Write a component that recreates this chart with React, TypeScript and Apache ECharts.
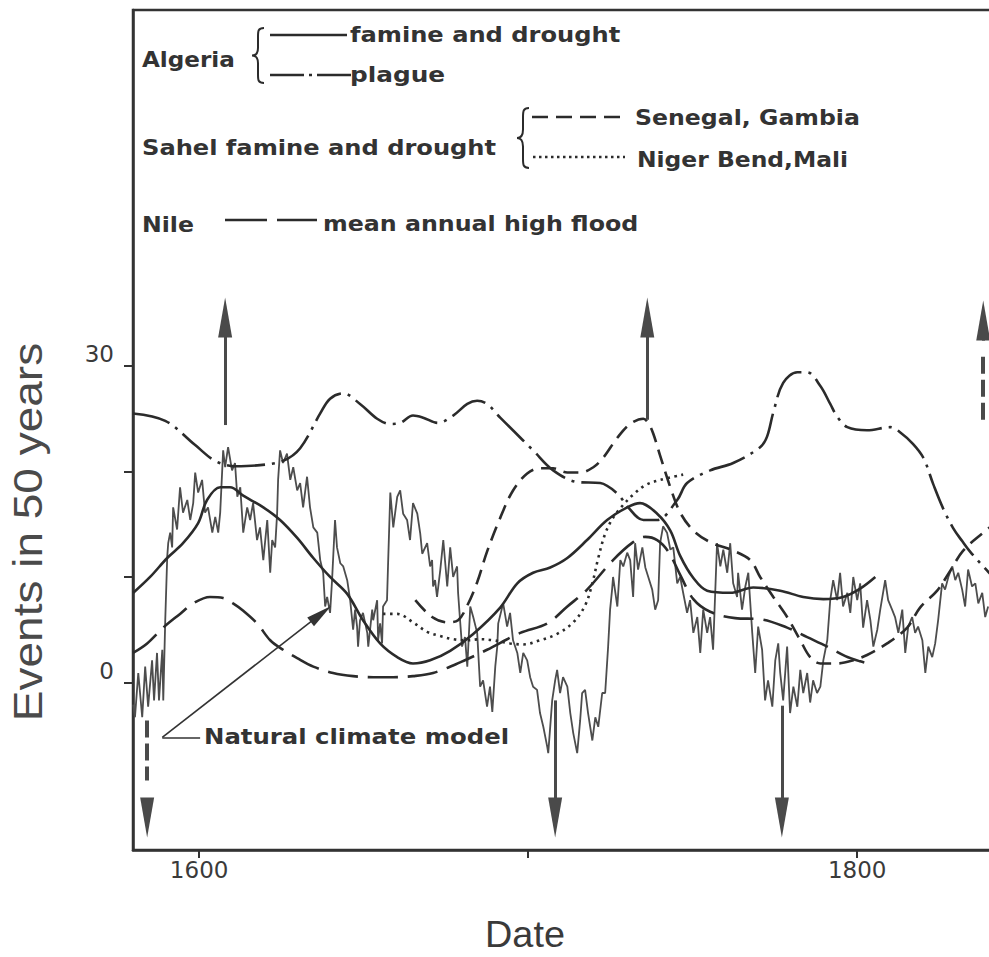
import React, { useEffect, useRef } from "react";
import * as echarts from "echarts";

// ---------------- axis ticks ----------------
const xTickValues = [1600, 1700, 1800];
const xLabelValues = [1600, 1800];
const yTickValues = [0, 10, 20, 30];
const yLabelValues = [0, 30];

// ---------------- series: [year, events in 50 years] ----------------
const algeriaFamine = [
  [1580, 8.5], [1585.1, 10.0], [1590.3, 11.8], [1595.1, 13.2], [1599.7, 15.1], [1602.4, 17.3], [1606.4, 18.5],
  [1609.4, 18.5], [1613.4, 17.7], [1619.5, 16.6], [1624.6, 15.4], [1629.8, 13.7], [1634.7, 11.8], [1639.8, 10.0],
  [1645.0, 8.4], [1649.8, 5.9], [1655.0, 3.7], [1660.2, 2.4], [1665.0, 1.8], [1670.2, 2.1], [1676.3, 3.0],
  [1683.3, 4.6], [1691.5, 7.1], [1696.7, 9.4], [1701.5, 10.4], [1706.7, 10.9], [1711.9, 11.8], [1717.9, 13.5],
  [1724.0, 15.4], [1730.1, 16.6], [1734.0, 17.0], [1739.2, 16.0], [1743.2, 14.4], [1746.2, 12.0], [1750.2, 9.9],
  [1754.4, 8.7], [1761.4, 8.5], [1768.4, 9.0], [1776.6, 8.7], [1783.6, 8.1], [1789.7, 7.9], [1795.7, 8.1],
  [1800.9, 8.9], [1805.5, 10.0],
];

const algeriaPlague = [
  [1579.9, 25.5], [1589.7, 24.8], [1598.8, 22.5], [1604.9, 21.0], [1610.9, 20.5], [1618.5, 20.6], [1625.5, 21.0],
  [1630.7, 22.2], [1636.8, 25.5], [1639.8, 26.9], [1643.8, 27.4], [1648.9, 26.4], [1654.1, 25.0], [1658.1, 24.5],
  [1661.1, 24.6], [1665.0, 25.3], [1668.1, 25.1], [1672.6, 24.6], [1677.2, 25.3], [1681.5, 26.4], [1684.5, 26.7],
  [1687.5, 26.4], [1691.5, 25.1], [1701.5, 22.0], [1707.6, 20.1], [1714.9, 19.0], [1721.9, 18.9], [1727.1, 17.9],
  [1730.4, 16.6], [1735.0, 15.4], [1739.2, 15.4], [1745.3, 17.3], [1748.3, 18.9], [1755.3, 20.1], [1762.3, 20.8],
  [1770.5, 22.3], [1772.6, 23.3], [1774.5, 25.6], [1777.5, 28.4], [1781.8, 29.4], [1784.8, 29.4], [1788.8, 28.1],
  [1791.8, 26.4], [1793.9, 25.2], [1797.0, 24.2], [1803.0, 23.9], [1810.0, 24.2], [1813.1, 23.7], [1817.0, 22.6],
  [1820.1, 21.3], [1823.1, 18.8], [1826.1, 16.5], [1829.2, 14.6], [1831.9, 13.4], [1834.3, 12.4], [1839.5, 10.6],
  [1843.5, 9.3],
];

const senegalGambia = [
  [1665.7, 7.8], [1670.8, 6.2], [1675.4, 5.7], [1678.7, 5.9], [1681.5, 7.3], [1684.5, 9.5], [1687.5, 12.4],
  [1691.5, 15.6], [1695.4, 18.2], [1699.7, 19.8], [1703.6, 20.3], [1707.6, 20.3], [1711.9, 19.9], [1715.8, 19.9],
  [1719.8, 20.4], [1722.8, 21.3], [1727.1, 23.2], [1731.0, 24.5], [1735.0, 25.0], [1736.5, 24.6], [1738.0, 23.6],
  [1740.1, 21.5], [1743.2, 18.5], [1746.2, 16.1], [1750.2, 14.4], [1755.3, 13.3], [1762.3, 12.5], [1767.5, 11.6],
  [1770.5, 10.0], [1774.5, 8.1], [1778.7, 6.2], [1782.7, 4.0], [1785.7, 2.4], [1788.8, 1.8], [1793.9, 1.8],
  [1798.8, 2.1], [1803.0, 2.6], [1809.1, 3.7], [1815.2, 5.2], [1819.1, 7.1], [1824.3, 8.7], [1828.3, 10.6],
  [1832.2, 12.5], [1838.3, 14.2], [1843.5, 15.5],
];

const nigerBendMali = [
  [1655.9, 6.5], [1660.2, 6.5], [1665.0, 5.7], [1669.3, 4.8], [1673.3, 4.4], [1677.2, 4.1], [1681.5, 4.0],
  [1685.4, 4.1], [1689.4, 4.0], [1694.5, 3.7], [1698.5, 3.6], [1703.6, 4.0], [1708.8, 4.6], [1713.7, 5.7],
  [1717.3, 7.3], [1719.5, 9.4], [1721.3, 11.8], [1723.4, 14.1], [1725.8, 15.6], [1728.8, 16.8], [1731.9, 17.8],
  [1735.6, 18.7], [1740.1, 19.2], [1747.1, 19.7],
];

const nileHighFlood = [
  [1579.9, 2.8], [1584.2, 3.7], [1589.1, 5.2], [1594.2, 6.5], [1598.2, 7.5], [1603.3, 8.1], [1607.3, 8.0],
  [1610.3, 7.5], [1613.4, 6.8], [1617.6, 5.6], [1621.6, 4.0], [1625.5, 3.1], [1629.8, 2.3], [1634.7, 1.5],
  [1640.7, 0.9], [1646.8, 0.6], [1652.9, 0.5], [1659.0, 0.5], [1665.0, 0.6], [1671.1, 0.9], [1679.3, 1.9],
  [1687.5, 3.1], [1697.6, 4.7], [1705.8, 5.6], [1711.9, 7.2], [1717.9, 8.8], [1725.8, 11.6], [1731.9, 13.3],
  [1735.6, 13.8], [1739.2, 13.5], [1742.6, 12.4], [1746.2, 10.2], [1750.2, 7.9], [1755.3, 6.7], [1762.9, 6.1],
  [1770.5, 6.0], [1778.7, 5.2], [1784.8, 4.3], [1790.9, 3.4], [1796.4, 2.5], [1800.9, 2.0], [1804.6, 1.7],
];

const naturalClimateModel = [
  [1579.9, -2.1], [1580.5, -3.3], [1581.5, 0.9], [1582.7, -3.3], [1583.6, 1.5], [1584.5, -2.3], [1585.7, 2.1],
  [1586.3, -1.7], [1587.2, 2.8], [1587.8, -1.7], [1588.8, 3.1], [1589.1, -1.7], [1589.7, 5.9], [1590.3, 11.9],
  [1590.6, 13.2], [1591.2, 14.2], [1591.8, 12.8], [1592.1, 16.6], [1593.3, 14.5], [1594.2, 18.5], [1595.1, 16.1],
  [1596.4, 17.3], [1597.3, 15.4], [1598.2, 17.0], [1598.8, 19.9], [1599.7, 18.0], [1600.9, 19.2], [1601.8, 16.1],
  [1602.7, 16.6], [1604.0, 14.2], [1604.9, 15.7], [1605.8, 14.2], [1606.4, 16.1], [1607.3, 22.0], [1607.9, 20.4],
  [1608.8, 22.3], [1610.0, 20.1], [1610.9, 20.8], [1611.6, 17.6], [1612.5, 18.5], [1613.4, 14.2], [1614.6, 16.6],
  [1615.5, 15.4], [1616.4, 17.0], [1617.6, 13.5], [1618.5, 14.7], [1619.5, 11.6], [1620.7, 15.4], [1621.6, 10.4],
  [1622.2, 13.5], [1623.1, 12.8], [1623.7, 16.0], [1624.0, 19.2], [1624.6, 22.0], [1625.5, 20.8], [1626.7, 21.7],
  [1627.7, 19.2], [1628.6, 20.4], [1629.8, 18.2], [1630.7, 18.9], [1631.6, 16.6], [1632.8, 19.5], [1633.7, 16.6],
  [1634.7, 14.7], [1635.9, 14.2], [1636.8, 11.6], [1637.7, 10.4], [1638.3, 7.2], [1638.9, 8.1], [1639.8, 6.6],
  [1640.4, 9.7], [1641.3, 15.4], [1641.9, 12.8], [1642.9, 11.3], [1643.8, 11.0], [1645.0, 9.7], [1645.9, 7.8],
  [1646.8, 5.0], [1647.4, 6.9], [1648.0, 5.3], [1648.3, 3.4], [1648.9, 5.9], [1649.8, 6.6], [1651.1, 4.7],
  [1651.4, 3.4], [1652.6, 6.9], [1652.9, 5.9], [1654.1, 7.8], [1654.4, 4.0], [1655.0, 5.6], [1655.6, 3.7],
  [1655.9, 7.2], [1657.1, 7.8], [1657.4, 11.0], [1658.1, 18.0], [1659.0, 14.7], [1660.2, 17.6], [1661.1, 18.2],
  [1662.0, 16.0], [1663.2, 15.4], [1664.1, 13.5], [1665.0, 17.0], [1666.3, 16.0], [1667.2, 14.1], [1667.8, 12.2],
  [1669.3, 13.2], [1670.2, 11.0], [1670.8, 11.6], [1671.1, 9.1], [1671.7, 9.7], [1672.3, 8.1], [1673.3, 10.7],
  [1674.2, 13.5], [1675.4, 9.1], [1676.3, 12.8], [1677.2, 10.0], [1678.4, 11.0], [1678.7, 8.5], [1679.3, 5.9],
  [1679.9, 3.4], [1680.8, 4.3], [1681.5, 1.5], [1682.4, 7.2], [1683.3, 6.2], [1684.5, 4.7], [1685.4, -0.4],
  [1686.3, 0.2], [1687.5, -2.3], [1688.4, -0.4], [1689.1, -2.8], [1690.0, 1.5], [1690.6, 3.4], [1690.9, 5.6],
  [1692.4, 7.5], [1693.6, 5.3], [1694.5, 6.6], [1695.4, 4.0], [1696.7, 2.8], [1697.6, 0.9], [1698.5, 2.8],
  [1699.7, 2.1], [1700.6, 0.5], [1701.5, -0.4], [1702.7, -0.7], [1703.6, -2.9], [1704.6, -4.2], [1705.8, -6.1],
  [1706.1, -6.7], [1707.3, -1.7], [1708.2, 0.2], [1708.8, 1.2], [1709.7, -1.0], [1710.6, 0.5], [1711.9, -0.4],
  [1712.8, -2.9], [1713.7, -4.8], [1714.9, -6.7], [1715.8, -3.6], [1716.4, -1.0], [1717.3, -0.7], [1718.2, -2.9],
  [1719.5, -5.5], [1720.4, -3.3], [1721.3, -4.2], [1722.5, -1.0], [1723.4, -1.0], [1724.3, 3.4], [1724.9, 6.9],
  [1725.5, 8.8], [1725.8, 10.0], [1727.1, 7.2], [1728.0, 11.6], [1728.9, 11.0], [1730.1, 12.3], [1731.0, 11.6],
  [1731.9, 8.1], [1732.5, 13.2], [1733.4, 10.7], [1734.7, 12.8], [1735.6, 10.9], [1736.5, 10.0], [1737.7, 8.8],
  [1738.6, 6.9], [1739.5, 7.8], [1740.1, 13.2], [1741.0, 14.8], [1742.2, 14.2], [1743.2, 12.6], [1744.1, 12.8],
  [1745.3, 9.4], [1746.2, 10.0], [1747.1, 8.5], [1748.3, 6.6], [1749.2, 7.8], [1750.2, 4.7], [1751.4, 6.2],
  [1752.3, 2.8], [1753.2, 6.9], [1754.4, 4.7], [1755.3, 6.2], [1756.2, 3.1], [1757.4, 13.2], [1758.4, 11.0],
  [1759.3, 12.6], [1760.5, 10.4], [1761.4, 13.2], [1762.3, 9.4], [1763.5, 8.1], [1763.8, 10.4], [1765.0, 6.9],
  [1766.0, 9.1], [1766.9, 10.4], [1768.1, 4.7], [1769.0, 0.9], [1769.9, 5.3], [1771.1, 3.1], [1772.0, -1.7],
  [1772.9, 0.2], [1774.2, -2.3], [1775.1, 2.1], [1776.0, 3.7], [1776.6, 0.9], [1777.5, -1.7], [1778.7, 3.4],
  [1779.6, -2.9], [1780.6, -0.4], [1781.8, -2.3], [1782.7, 1.2], [1783.6, -1.0], [1784.8, 0.9], [1785.7, -1.9],
  [1786.6, 0.2], [1787.8, -1.0], [1788.8, -0.4], [1789.7, 2.1], [1790.9, 4.0], [1791.8, 7.8], [1792.7, 9.7],
  [1793.9, 7.8], [1794.8, 10.4], [1795.7, 7.2], [1797.0, 8.5], [1797.9, 6.6], [1798.8, 10.0], [1800.0, 7.8],
  [1800.9, 9.4], [1801.8, 5.2], [1803.0, 7.8], [1804.0, 5.9], [1804.9, 3.4], [1806.1, 5.0], [1807.0, 6.9],
  [1808.5, 9.7], [1809.4, 7.8], [1810.6, 6.9], [1811.5, 6.2], [1812.5, 4.7], [1813.7, 6.9], [1814.6, 2.8],
  [1815.5, 5.3], [1816.7, 6.2], [1817.6, 4.7], [1818.5, 5.3], [1819.8, 4.0], [1820.7, 0.9], [1821.6, 3.4],
  [1822.8, 2.4], [1823.7, 3.7], [1824.6, 5.9], [1825.8, 9.4], [1826.7, 8.8], [1827.7, 10.0], [1828.9, 11.0],
  [1829.8, 9.7], [1830.7, 10.4], [1831.9, 8.8], [1832.8, 7.2], [1833.7, 10.7], [1834.9, 9.1], [1835.9, 9.4],
  [1836.8, 7.5], [1838.0, 8.5], [1838.9, 6.2], [1839.8, 7.2],
];

// ---------------- arrows: year, shaft start, head centre, dashed shaft ----------------
const eventArrows = [
  { year: 1607.9, from: 24.4, to: 34.6, dashed: false, head: true },
  { year: 1736.2, from: 24.9, to: 34.6, dashed: false, head: true },
  { year: 1838.3, from: 24.9, to: 30.9, dashed: true, head: false },
  { year: 1838.3, from: 32.4, to: 34.3, dashed: false, head: true },
  { year: 1584.2, from: -3.6, to: -9.3, dashed: true, head: false },
  { year: 1584.2, from: -11.0, to: -12.8, dashed: false, head: true },
  { year: 1708.2, from: -1.7, to: -12.8, dashed: false, head: true },
  { year: 1777.1, from: -2.2, to: -12.8, dashed: false, head: true },
];
// pointer from the "Natural climate model" label to the curve
const pointerStart = [1588.8, -5.2];
const pointerLabelEnd = [1600.3, -5.2];
const pointerHead = [1637.0, 6.5];

const X_MIN = 1579.9;
const X_MAX = 1843.7;
const Y_MIN = -15.88;
const Y_MAX = 63.74;

const INK = "#2b2b2b";
const GREY = "#4d4d4d";

const BRACE_D = "M12,0 C6,0 6,3 6,9 L6,20 C6,25 4,28 0,28 C4,28 6,31 6,36 L6,47 C6,53 6,56 12,56";

function curve(name: string, data: number[][], dash: any) {
  return {
    type: "line",
    name,
    data,
    showSymbol: false,
    symbol: "none",
    smooth: 0.35,
    silent: true,
    z: 3,
    lineStyle: { color: INK, width: 2.6, type: dash, cap: "butt" },
  };
}

function legendText(text: string, x: number, y: number, sx: number) {
  return {
    type: "text",
    x,
    y,
    scaleX: sx,
    z: 100,
    style: {
      text,
      fill: "#333",
      fontFamily: "DejaVu Sans",
      fontWeight: "bold",
      fontSize: 21,
      align: "left",
      verticalAlign: "middle",
    },
  };
}

function legendLine(x1: number, x2: number, y: number, dash: any) {
  return {
    type: "line",
    z: 100,
    shape: { x1, y1: y, x2, y2: y },
    style: { stroke: INK, lineWidth: 2.4, lineDash: dash, lineCap: "butt" },
  };
}

export default function App() {
  const ref = useRef<HTMLDivElement>(null);

  useEffect(() => {
    if (!ref.current) return;
    echarts.graphic.registerShape("brace", echarts.graphic.extendPath(BRACE_D, {}));
    const chart = echarts.init(ref.current, null, { renderer: "svg" });

    const arrowLines: any[] = eventArrows.map((a) => [
      {
        coord: [a.year, a.from],
        symbol: "none",
        lineStyle: { color: "#4a4a4a", width: a.dashed ? 4 : 3, type: a.dashed ? [17, 6] : "solid" },
      },
      { coord: [a.year, a.to], symbol: a.head ? "triangle" : "none", symbolSize: [14, 40] },
    ]);
    arrowLines.push([
      { coord: pointerStart, symbol: "none", lineStyle: { color: "#333", width: 1.6, type: "solid" } },
      { coord: pointerHead, symbol: "triangle", symbolSize: [11, 26] },
    ]);
    arrowLines.push([
      { coord: pointerStart, symbol: "none", lineStyle: { color: "#333", width: 1.6, type: "solid" } },
      { coord: pointerLabelEnd, symbol: "none" },
    ]);

    const option: any = {
      animation: false,
      grid: {
        left: 133,
        top: 10,
        width: 868,
        height: 840,
        outerBoundsMode: "none",
        containLabel: false,
        show: true,
        borderColor: "#333",
        borderWidth: 2.5,
        backgroundColor: "transparent",
      },
      xAxis: {
        type: "value",
        min: X_MIN,
        max: X_MAX,
        axisLine: { show: true, onZero: false, lineStyle: { color: "#333", width: 2.5 } },
        axisTick: { show: true, customValues: xTickValues, length: 8, lineStyle: { color: "#333", width: 2 } },
        axisLabel: {
          customValues: xLabelValues,
          margin: 8,
          fontFamily: "DejaVu Sans",
          fontSize: 23,
          color: "#3a3a3a",
          formatter: (v: number) => String(v),
        },
        splitLine: { show: false },
      },
      yAxis: {
        type: "value",
        min: Y_MIN,
        max: Y_MAX,
        axisLine: { show: true, onZero: false, lineStyle: { color: "#333", width: 2.5 } },
        axisTick: { show: true, customValues: yTickValues, length: 9, lineStyle: { color: "#333", width: 2 } },
        axisLabel: {
          customValues: yLabelValues,
          margin: 19,
          fontFamily: "DejaVu Sans",
          fontSize: 23,
          color: "#3a3a3a",
          verticalAlign: "bottom",
          formatter: (v: number) => String(v),
        },
        splitLine: { show: false },
      },
      series: [
        {
          type: "line",
          name: "Natural climate model",
          data: naturalClimateModel,
          showSymbol: false,
          symbol: "none",
          smooth: false,
          silent: true,
          z: 2,
          lineStyle: { color: GREY, width: 1.8 },
          markLine: {
            silent: true,
            animation: false,
            label: { show: false },
            emphasis: { disabled: true },
            symbol: ["none", "none"],
            data: arrowLines,
          },
        },
        curve("Algeria famine and drought", algeriaFamine, "solid"),
        curve("Algeria plague", algeriaPlague, [38, 7, 3, 7]),
        curve("Senegal, Gambia", senegalGambia, [15, 8]),
        curve("Niger Bend, Mali", nigerBendMali, [2.5, 4.5]),
        curve("Nile mean annual high flood", nileHighFlood, [30, 10]),
      ],
      graphic: [
        legendText("Algeria", 142, 59.6, 1.1),
        {
          type: "brace",
          x: 252,
          y: 28,
          scaleY: 55 / 56,
          z: 100,
          style: { stroke: INK, fill: "none", lineWidth: 2 },
        },
        legendLine(270, 347, 35, null),
        legendText("famine and drought", 350, 34.6, 1.15),
        legendLine(270, 352, 75, [34, 5, 3, 5]),
        legendText("plague", 350, 74.6, 1.18),
        legendText("Sahel famine and drought", 142, 147.6, 1.15),
        {
          type: "brace",
          x: 517,
          y: 108,
          scaleY: 60 / 56,
          z: 100,
          style: { stroke: INK, fill: "none", lineWidth: 2 },
        },
        legendLine(532, 622, 117, [16, 8]),
        legendText("Senegal, Gambia", 635, 117.6, 1.125),
        legendLine(533, 625, 157, [2.5, 3.5]),
        legendText("Niger Bend,Mali", 637, 159.6, 1.115),
        legendText("Nile", 142, 224.6, 1.125),
        legendLine(225, 317, 220, [42, 10]),
        legendText("mean annual high flood", 323, 223.6, 1.13),
        legendText("Natural climate model", 204, 737, 1.16),
        {
          type: "text",
          x: 28,
          y: 532,
          rotation: Math.PI / 2,
          scaleX: 1.15,
          z: 100,
          style: {
            text: "Events in 50 years",
            fill: "#4a4a4a",
            fontFamily: "Liberation Sans",
            fontSize: 40,
            align: "center",
            verticalAlign: "middle",
          },
        },
        {
          type: "text",
          x: 525,
          y: 935,
          scaleX: 1.05,
          z: 100,
          style: {
            text: "Date",
            fill: "#3a3a3a",
            fontFamily: "Liberation Sans",
            fontSize: 36,
            align: "center",
            verticalAlign: "middle",
          },
        },
      ],
    };

    chart.setOption(option);
    return () => chart.dispose();
  }, []);

  return (
    <div
      ref={ref}
      style={{ position: "fixed", left: 0, top: 0, width: 989, height: 957, background: "#fff" }}
    />
  );
}
